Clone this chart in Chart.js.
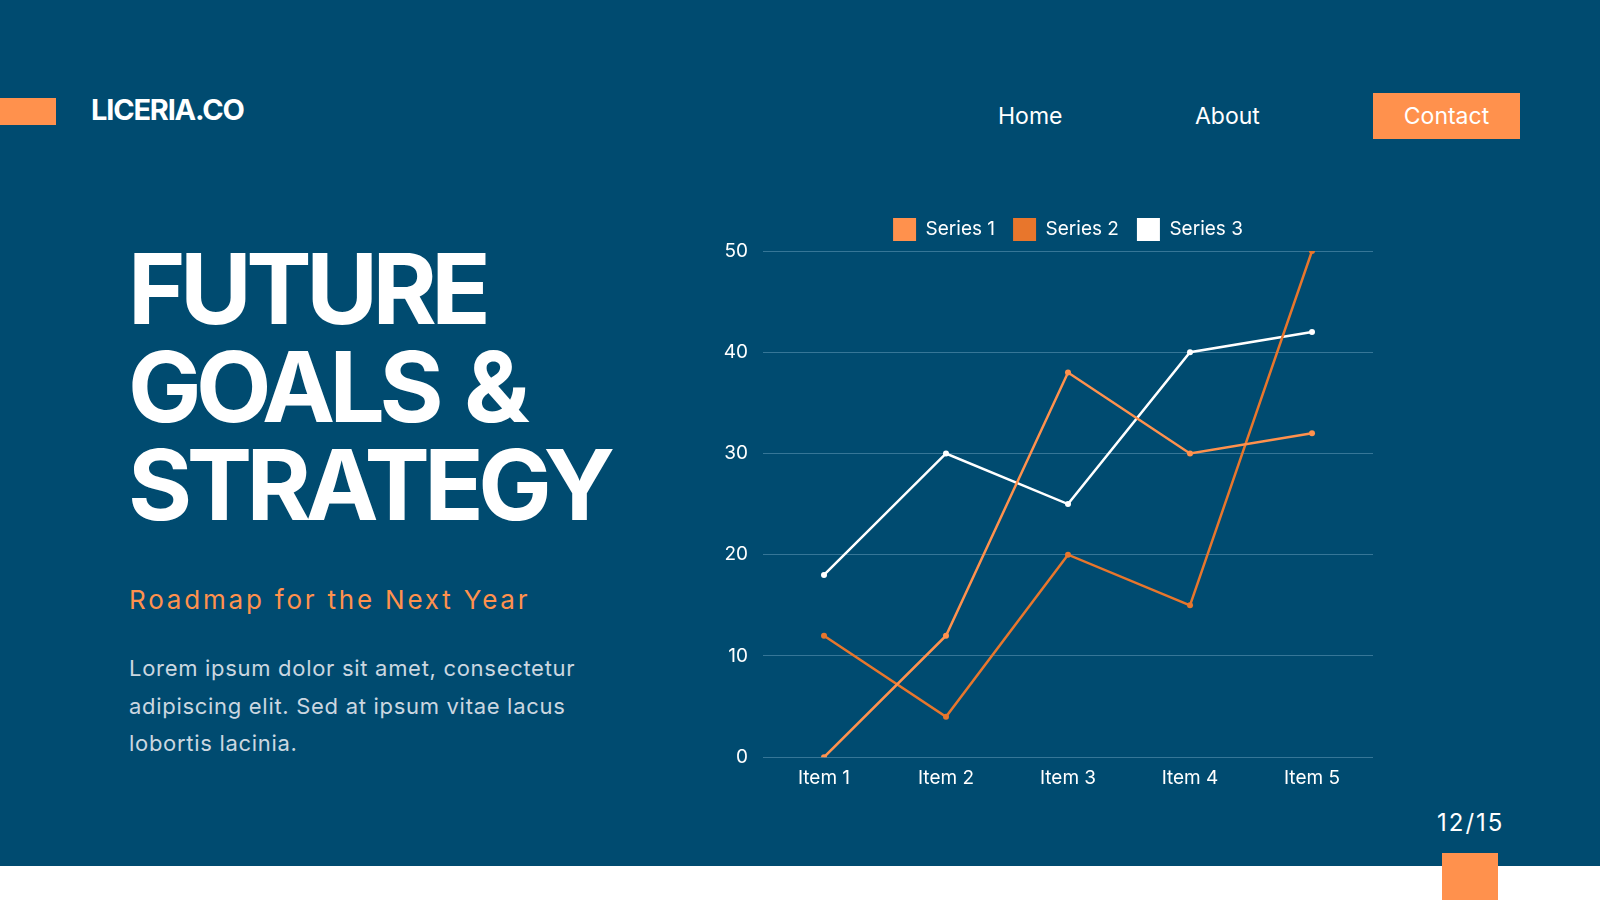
<!DOCTYPE html>
<html>
<head>
<meta charset="utf-8">
<script src="https://cdn.jsdelivr.net/npm/chart.js@4.4.0/dist/chart.umd.min.js"></script>
<style>
  html, body { margin: 0; padding: 0; }
  body {
    width: 1600px; height: 900px; overflow: hidden; position: relative;
    background: #004b70; font-family: 'Inter', sans-serif; color: #fff;
  }
  .abs { position: absolute; white-space: nowrap; }
  #bottom { left: 0; top: 866px; width: 1600px; height: 34px; background: #fff; }
  #tag { left: 0; top: 98px; width: 56px; height: 27px; background: #ff914d; }
  #logo { left: 91px; top: 92px; font-size: 29px; font-weight: 700; letter-spacing: -1.2px; line-height: 36px; }
  .nav { top: 102px; font-size: 23px; line-height: 28px; }
  #contact { left: 1373px; top: 93px; width: 147px; height: 46px; background: #ff914d;
    font-size: 23px; line-height: 46px; text-align: center; }
  #title { left: 128px; top: 240px; font-size: 98px; font-weight: 700; line-height: 98px;
    letter-spacing: -5.5px; word-spacing: 8px; }
  #sub { left: 129px; top: 584px; font-size: 26px; color: #ff914d; letter-spacing: 2.8px; line-height: 32px; }
  #body { left: 129px; top: 650px; font-size: 22px; line-height: 37.5px; letter-spacing: 0.7px; color: #cbd7e0; }
  #page { left: 1437px; top: 808px; font-size: 24px; letter-spacing: 2px; line-height: 30px; }
  #square { left: 1442px; top: 853px; width: 56px; height: 47px; background: #ff914d; }
  #chartBox { left: 690px; top: 200px; width: 690px; height: 592px; }
</style>
</head>
<body>
<div class="abs" id="bottom"></div>
<div class="abs" id="tag"></div>
<div class="abs" id="logo">LICERIA.CO</div>
<div class="abs nav" style="left:998px">Home</div>
<div class="abs nav" style="left:1195px">About</div>
<div class="abs" id="contact">Contact</div>
<div class="abs" id="title">FUTURE<br>GOALS &amp;<br>STRATEGY</div>
<div class="abs" id="sub">Roadmap for the Next Year</div>
<div class="abs" id="body">Lorem ipsum dolor sit amet, consectetur<br>adipiscing elit. Sed at ipsum vitae lacus<br>lobortis lacinia.</div>
<div class="abs" id="page">12/15</div>
<div class="abs" id="square"></div>
<div class="abs" id="chartBox"><canvas id="chart"></canvas></div>

<script>
const categories = ['Item 1', 'Item 2', 'Item 3', 'Item 4', 'Item 5'];
const series1 = [0, 12, 38, 30, 32];
const series2 = [12, 4, 20, 15, 50];
const series3 = [18, 30, 25, 40, 42];
const yTicks = [0, 10, 20, 30, 40, 50];

const colors = ['#ff914d', '#e8762c', '#ffffff'];

function line(label, data, color) {
  return {
    label,
    data,
    borderColor: color,
    backgroundColor: color,
    borderWidth: 2.5,
    pointRadius: 3,
    pointHoverRadius: 3,
    pointBorderWidth: 0,
    fill: false,
    tension: 0,
  };
}

// centre the legend over the plot area instead of the whole canvas
const centerLegend = {
  id: 'centerLegend',
  beforeDraw(chart) {
    const lg = chart.legend;
    const w = lg.right - lg.left;
    const mid = (chart.chartArea.left + chart.chartArea.right) / 2;
    lg.left = mid - w / 2;
    lg.right = lg.left + w;
  },
};

new Chart(document.getElementById('chart'), {
  type: 'line',
  data: {
    labels: categories,
    datasets: [
      line('Series 1', series1, colors[0]),
      line('Series 2', series2, colors[1]),
      line('Series 3', series3, colors[2]),
    ],
  },
  plugins: [centerLegend],
  options: {
    responsive: true,
    maintainAspectRatio: false,
    animation: false,
    layout: { padding: { right: 7, top: 0, bottom: 0 } },
    plugins: {
      tooltip: { enabled: false },
      legend: {
        position: 'top',
        labels: {
          color: '#ffffff',
          boxWidth: 23,
          boxHeight: 23,
          padding: 18,
          font: { family: 'Inter', size: 19 },
          generateLabels(chart) {
            return chart.data.datasets.map((ds, i) => ({
              text: ds.label,
              fillStyle: ds.borderColor,
              strokeStyle: ds.borderColor,
              lineWidth: 0,
              fontColor: '#ffffff',
              datasetIndex: i,
            }));
          },
        },
      },
    },
    scales: {
      x: {
        offset: true,
        grid: { display: false },
        border: { display: false },
        ticks: { color: '#ffffff', padding: 2, font: { family: 'Inter', size: 19 } },
      },
      y: {
        min: 0,
        max: 50,
        afterBuildTicks(axis) { axis.ticks = yTicks.map(v => ({ value: v })); },
        afterFit(axis) { axis.width = 73; },
        grid: { color: 'rgba(120,170,200,0.45)', lineWidth: 1, drawTicks: false },
        border: { display: false },
        ticks: { color: '#ffffff', padding: 15, font: { family: 'Inter', size: 19 } },
      },
    },
  },
});
</script>
</body>
</html>
